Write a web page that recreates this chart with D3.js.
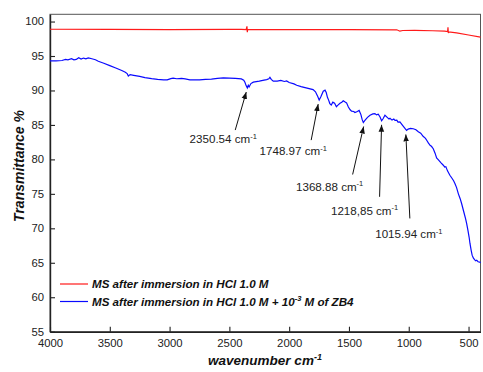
<!DOCTYPE html>
<html>
<head>
<meta charset="utf-8">
<script src="https://cdn.jsdelivr.net/npm/d3@7"></script>
<style>
  html, body { margin: 0; padding: 0; background: #fff; }
  svg { display: block; font-family: "Liberation Sans", Arial, sans-serif; }
</style>
</head>
<body>
<svg id="chart" width="483" height="372"></svg>
<script>
// FTIR spectra: wavenumber (cm-1) and transmittance (%)
const redWavenumber = [4000, 3500, 3000, 2500, 2400, 2360, 2353, 2350, 2347, 2000, 1500, 1100, 1074, 1050, 950, 800, 700, 675, 672, 669, 665, 600, 500, 400];
const redTransmittance = [98.88, 98.86, 98.84, 98.85, 98.85, 98.82, 99.3, 98.45, 98.84, 98.84, 98.84, 98.8, 98.6, 98.7, 98.72, 98.66, 98.6, 98.55, 99.15, 98.35, 98.5, 98.35, 98.05, 97.75];

const blueWavenumber = [4000, 3950, 3900, 3870, 3850, 3820, 3800, 3780, 3760, 3740, 3720, 3700, 3680, 3650, 3620, 3596, 3550, 3500, 3450, 3400, 3370, 3355, 3345, 3330, 3300, 3250, 3206, 3150, 3100, 3050, 3020, 2990, 2970, 2940, 2900, 2870, 2830, 2790, 2750, 2700, 2650, 2600, 2550, 2500, 2450, 2400, 2380, 2370, 2360, 2350, 2342, 2335, 2320, 2300, 2250, 2210, 2188, 2170, 2161, 2150, 2133, 2100, 2070, 2040, 2021, 2000, 1960, 1937, 1900, 1850, 1800, 1780, 1760, 1749, 1735, 1715, 1700, 1690, 1680, 1670, 1660, 1648, 1635, 1620, 1605, 1590, 1575, 1560, 1548, 1535, 1520, 1505, 1490, 1478, 1460, 1450, 1430, 1415, 1400, 1390, 1380, 1365, 1345, 1324, 1300, 1283, 1270, 1255, 1240, 1227, 1215, 1199, 1180, 1165, 1157, 1140, 1125, 1115, 1100, 1090, 1074, 1050, 1030, 1018, 1005, 985, 962, 940, 920, 900, 880, 860, 850, 835, 820, 810, 795, 780, 767, 750, 730, 711, 700, 690, 675, 656, 640, 625, 614, 600, 585, 570, 558, 540, 525, 516, 505, 495, 488, 478, 470, 460, 450, 440, 432, 420, 405, 400];
const blueTransmittance = [94.28, 94.3, 94.35, 94.5, 94.45, 94.6, 94.45, 94.5, 94.75, 94.55, 94.7, 94.6, 94.72, 94.6, 94.45, 94.24, 93.95, 93.6, 93.25, 92.9, 92.65, 92.45, 92.1, 92.3, 92.2, 92.05, 91.87, 91.72, 91.62, 91.55, 91.53, 91.72, 91.8, 91.7, 91.75, 91.68, 91.55, 91.53, 91.55, 91.6, 91.65, 91.75, 91.82, 91.8, 91.75, 91.68, 91.5, 91.2, 90.7, 90.35, 90.75, 90.5, 91.0, 91.2, 91.35, 91.5, 91.58, 91.7, 91.9, 91.6, 91.35, 91.35, 91.45, 91.3, 91.38, 91.15, 90.95, 90.75, 90.55, 90.35, 90.13, 89.8, 89.1, 88.6, 89.1, 89.9, 90.05, 89.7, 89.0, 88.6, 88.1, 87.9, 88.3, 88.15, 87.65, 87.9, 88.15, 88.3, 88.5, 88.35, 88.2, 87.6, 87.2, 87.0, 86.95, 86.8, 86.95, 87.1, 86.5, 85.8, 85.35, 85.7, 86.1, 86.4, 86.6, 86.65, 86.45, 86.55, 86.15, 85.6, 85.9, 86.4, 86.1, 85.85, 85.95, 85.7, 85.85, 85.65, 85.7, 85.4, 85.43, 84.9, 84.45, 84.2, 84.4, 84.5, 84.45, 84.3, 84.0, 83.8, 83.35, 83.05, 82.77, 82.35, 82.0, 81.9, 81.55, 80.9, 80.2, 79.9, 79.5, 79.15, 78.9, 78.95, 78.3, 77.7, 77.3, 76.9, 76.5, 75.9, 75.0, 74.3, 73.6, 72.4, 71.4, 70.7, 69.7, 68.7, 67.8, 66.8, 66.1, 65.7, 65.45, 65.3, 65.36, 65.15, 65.1, 65.0];

const seriesNames = ["MS after immersion in HCl 1.0 M", "MS after immersion in HCl 1.0 M + 10"];
const xTicks = [4000, 3500, 3000, 2500, 2000, 1500, 1000, 500];
const yTicks = [55, 60, 65, 70, 75, 80, 85, 90, 95, 100];

// Band assignments marked on the inhibited spectrum
const peakLabels = ["2350.54", "1748.97", "1368.88", "1218,85", "1015.94"];
const peakWavenumber = [2350.54, 1748.97, 1368.88, 1218.85, 1015.94];
const peakTransmittance = [90.35, 88.6, 85.35, 85.6, 84.2];

// Arrow tail and label placement (pixels, relative to the arrow tip)
const arrowLayout = [
  { tail: [-11, 38], text: [-23, 51] },
  { tail: [-7, 36], text: [-25, 51] },
  { tail: [-11, 48], text: [-34, 64] },
  { tail: [-2, 72], text: [-17, 90] },
  { tail: [4, 84], text: [3, 104] }
];

const svg = d3.select("#chart");
const margin = { left: 50, top: 14.3, right: 480.5, bottom: 331.7 };

const x = d3.scaleLinear().domain([4000, 400]).range([margin.left, margin.right]);
const y = d3.scaleLinear().domain([55, 101.05]).range([margin.bottom, margin.top]);

// plot frame
svg.append("rect")
  .attr("x", margin.left).attr("y", margin.top)
  .attr("width", margin.right - margin.left).attr("height", margin.bottom - margin.top)
  .attr("fill", "none").attr("stroke", "#555").attr("stroke-width", 1);

const xAxis = svg.append("g")
  .attr("transform", `translate(0,${margin.bottom})`)
  .call(d3.axisBottom(x).tickValues(xTicks).tickFormat(d3.format("d"))
    .tickSizeInner(-5).tickSizeOuter(0).tickPadding(7));
const yAxis = svg.append("g")
  .attr("transform", `translate(${margin.left},0)`)
  .call(d3.axisLeft(y).tickValues(yTicks).tickFormat(d3.format("d"))
    .tickSizeInner(-5).tickSizeOuter(0).tickPadding(6));

[xAxis, yAxis].forEach(g => {
  g.select(".domain").attr("stroke", "#222").attr("stroke-width", 1.4);
  g.selectAll(".tick line").attr("stroke", "#222").attr("stroke-width", 1.1);
  g.selectAll(".tick text").attr("fill", "#222")
    .style("font-family", "'Liberation Sans', Arial, sans-serif").style("font-size", "11.3px");
});
yAxis.selectAll(".tick text").attr("dy", "0.3em");

// spectra
const line = d3.line().x(d => x(d[0])).y(d => y(d[1]));
const redData = redWavenumber.map((w, i) => [w, redTransmittance[i]]);
const blueData = blueWavenumber.map((w, i) => [w, blueTransmittance[i]]);

svg.append("path").datum(redData).attr("d", line)
  .attr("fill", "none").attr("stroke", "#ff1a1a").attr("stroke-width", 1.2);
svg.append("path").datum(blueData).attr("d", line)
  .attr("fill", "none").attr("stroke", "#0a0aff").attr("stroke-width", 1.2);

// annotation arrows
svg.append("defs").append("marker")
  .attr("id", "head").attr("viewBox", "0 0 10 10")
  .attr("refX", 10).attr("refY", 5)
  .attr("markerWidth", 7).attr("markerHeight", 7)
  .attr("markerUnits", "userSpaceOnUse")
  .attr("orient", "auto")
  .append("path").attr("d", "M0,1 L10,5 L0,9 Z").attr("fill", "#111");

peakLabels.forEach((lab, i) => {
  const tipX = x(peakWavenumber[i]) - 1;
  const tipY = y(peakTransmittance[i]) + 4;
  const L = arrowLayout[i];
  svg.append("line")
    .attr("x1", tipX + L.tail[0]).attr("y1", tipY + L.tail[1])
    .attr("x2", tipX).attr("y2", tipY)
    .attr("stroke", "#111").attr("stroke-width", 1)
    .attr("marker-end", "url(#head)");
  const t = svg.append("text")
    .attr("x", tipX + L.text[0]).attr("y", tipY + L.text[1])
    .attr("text-anchor", "middle")
    .style("font-size", "11.6px").attr("fill", "#222");
  t.append("tspan").text(lab + " cm");
  t.append("tspan").attr("dy", -4.5).style("font-size", "7.5px").text("-1");
});

// axis titles
const xt = svg.append("text")
  .attr("x", 265).attr("y", 365)
  .attr("text-anchor", "middle")
  .style("font-size", "13.5px").style("font-weight", "bold").style("font-style", "italic")
  .attr("fill", "#111");
xt.append("tspan").text("wavenumber cm");
xt.append("tspan").attr("dy", -5).style("font-size", "9px").text("-1");

svg.append("text")
  .attr("transform", "translate(24,166) rotate(-90)")
  .attr("text-anchor", "middle")
  .style("font-size", "14px").style("font-weight", "bold").style("font-style", "italic")
  .attr("fill", "#111")
  .text("Transmittance %");

// legend
const legendColors = ["#ff1a1a", "#0a0aff"];
const legendY = [284, 301.5];
seriesNames.forEach((name, i) => {
  svg.append("line")
    .attr("x1", 60).attr("x2", 88).attr("y1", legendY[i]).attr("y2", legendY[i])
    .attr("stroke", legendColors[i]).attr("stroke-width", 1.2);
  const t = svg.append("text")
    .attr("x", 92).attr("y", legendY[i] + 4)
    .style("font-size", "11.6px").style("font-weight", "bold").style("font-style", "italic")
    .attr("fill", "#111");
  t.append("tspan").text(name);
  if (i === 1) {
    t.append("tspan").attr("dy", -4.5).style("font-size", "7.5px").text("-3");
    t.append("tspan").attr("dy", 4.5).text(" M of ZB4");
  }
});
</script>
</body>
</html>
